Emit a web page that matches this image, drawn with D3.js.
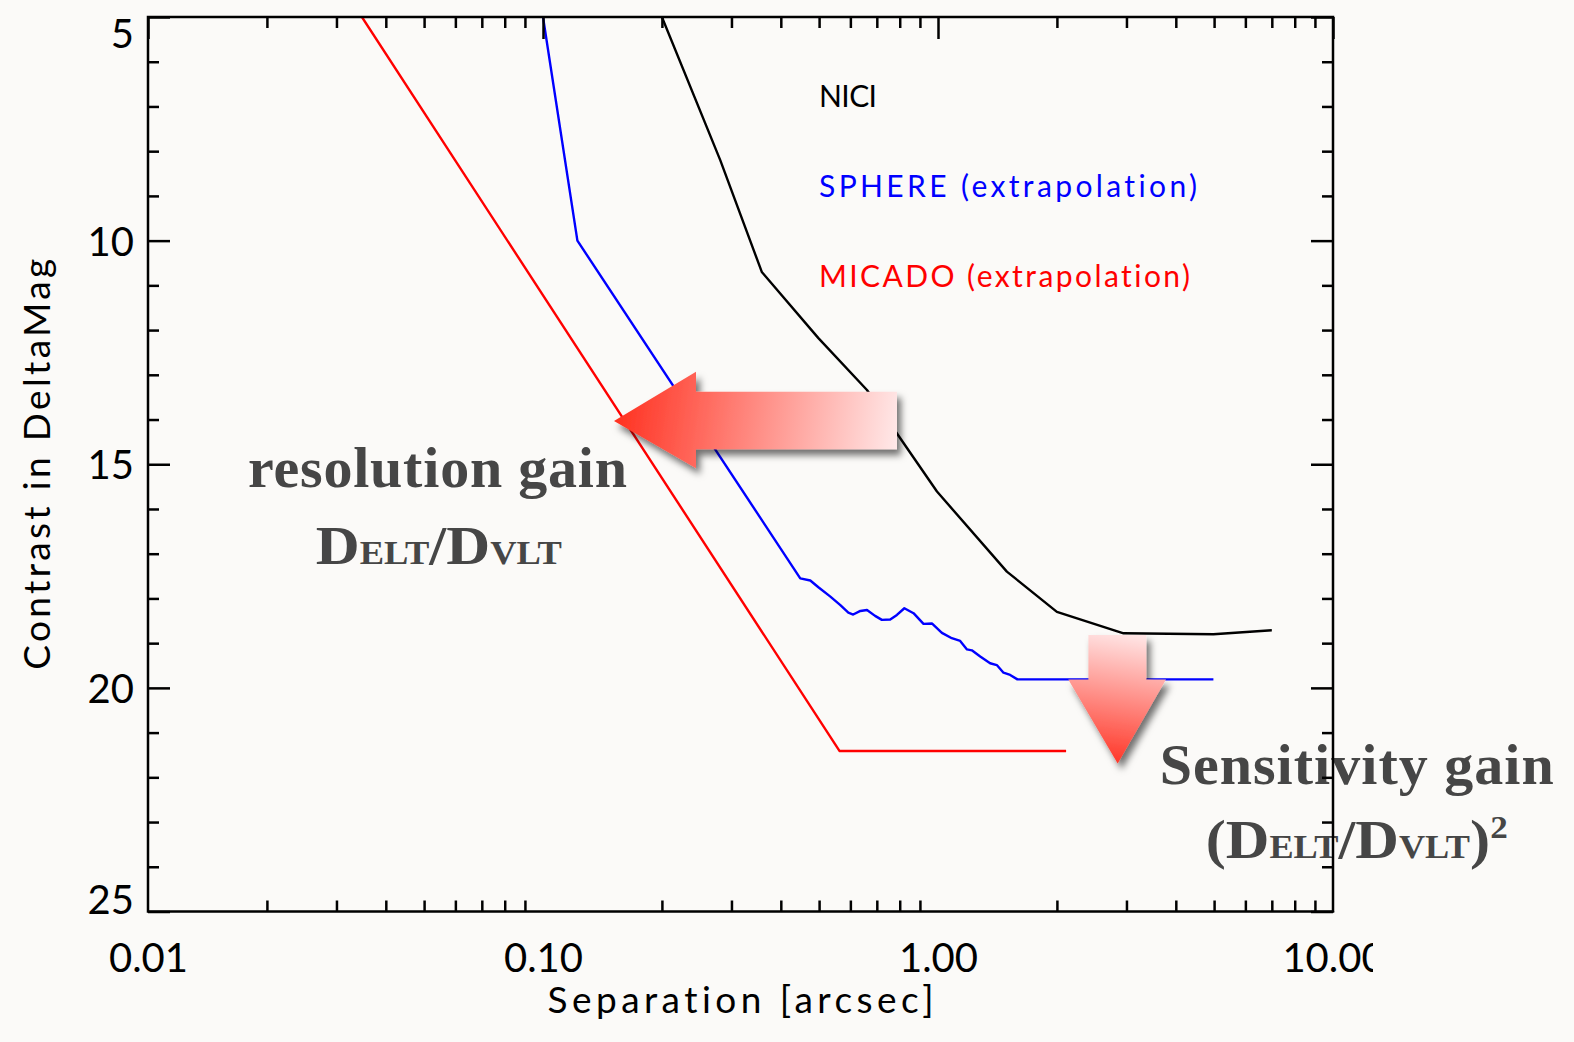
<!DOCTYPE html>
<html>
<head>
<meta charset="utf-8">
<script src="https://cdn.jsdelivr.net/npm/d3@7"></script>
<style>
  html, body { margin: 0; padding: 0; background: #fbfaf8; }
  svg { display: block; }
  text { font-variant-ligatures: none; font-feature-settings: "liga" 0; }
  .axis text { font-family: Lato, "DejaVu Sans", sans-serif; fill: #000; }
  .axis line { stroke: #000; stroke-width: 2.5; }
</style>
</head>
<body>
<svg id="chart"></svg>
<script>
// NICI (measured)
const niciSep = [0.2, 0.281, 0.358, 0.498, 0.661, 0.994, 1.494, 2.0, 2.95, 4.98, 7.0];
const niciMag = [5.0, 8.2, 10.7, 12.18, 13.34, 15.61, 17.4, 18.3, 18.78, 18.8, 18.71];

// SPHERE (extrapolation)
const sphereSep = [0.1, 0.1222, 0.448, 0.475, 0.498, 0.534, 0.566, 0.593, 0.61, 0.636, 0.661,
  0.693, 0.721, 0.757, 0.787, 0.822, 0.867, 0.919, 0.965, 1.023, 1.084, 1.138, 1.184,
  1.218, 1.279, 1.355, 1.409, 1.465, 1.523, 1.589, 4.98];
const sphereMag = [5.0, 10.0, 17.55, 17.6, 17.75, 17.96, 18.15, 18.32, 18.36, 18.28, 18.26,
  18.39, 18.48, 18.47, 18.37, 18.22, 18.33, 18.57, 18.56, 18.77, 18.89, 18.95, 19.14,
  19.16, 19.3, 19.45, 19.49, 19.66, 19.71, 19.81, 19.81];

// MICADO (extrapolation)
const micadoSep = [0.0348, 0.563, 2.11];
const micadoMag = [5.0, 21.41, 21.41];

const xMajor = [0.01, 0.1, 1, 10];
const xTickLabels = ['0.01', '0.10', '1.00', '10.00'];
const yMajor = [5, 10, 15, 20, 25];

const legendLabels = ['NICI', 'SPHERE (extrapolation)', 'MICADO (extrapolation)'];
const seriesColors = ['#000000', '#0000ff', '#ff0000'];

const W = 1574, H = 1042;
const m = { top: 17, right: 1333, bottom: 911.5, left: 148 };

const svg = d3.select('#chart').attr('width', W).attr('height', H);
svg.append('rect').attr('width', W).attr('height', H).attr('fill', '#fbfaf8');

const x = d3.scaleLog().domain([0.01, 10]).range([m.left, m.right]);
const y = d3.scaleLinear().domain([5, 25]).range([m.top, m.bottom]);

const defs = svg.append('defs');
defs.append('clipPath').attr('id', 'plot-clip')
  .append('rect').attr('x', m.left).attr('y', m.top)
  .attr('width', m.right - m.left).attr('height', m.bottom - m.top);
defs.append('clipPath').attr('id', 'label-clip')
  .append('rect').attr('x', 0).attr('y', 0).attr('width', 1373).attr('height', H);

const shadow = defs.append('filter').attr('id', 'shadow')
  .attr('x', '-20%').attr('y', '-20%').attr('width', '140%').attr('height', '140%');
shadow.append('feDropShadow').attr('dx', 4).attr('dy', 6).attr('stdDeviation', 3.5)
  .attr('flood-color', '#000').attr('flood-opacity', 0.55);

const gradL = defs.append('linearGradient').attr('id', 'grad-left')
  .attr('gradientUnits', 'userSpaceOnUse')
  .attr('x1', 614).attr('y1', 400).attr('x2', 897).attr('y2', 440);
gradL.append('stop').attr('offset', 0).attr('stop-color', '#ff2f1e');
gradL.append('stop').attr('offset', 1).attr('stop-color', '#ffe8e8');

const gradD = defs.append('linearGradient').attr('id', 'grad-down')
  .attr('gradientUnits', 'userSpaceOnUse')
  .attr('x1', 1130).attr('y1', 635).attr('x2', 1110).attr('y2', 764);
gradD.append('stop').attr('offset', 0).attr('stop-color', '#ffe4e4');
gradD.append('stop').attr('offset', 1).attr('stop-color', '#ff3526');

// Curves
const line = d3.line().x(d => x(d[0])).y(d => y(d[1]));
const series = [
  d3.zip(niciSep, niciMag),
  d3.zip(sphereSep, sphereMag),
  d3.zip(micadoSep, micadoMag)
];
svg.append('g').attr('clip-path', 'url(#plot-clip)')
  .selectAll('path')
  .data(series)
  .join('path')
    .attr('d', line)
    .attr('fill', 'none')
    .attr('stroke', (_, i) => seriesColors[i])
    .attr('stroke-width', 2.4)
    .attr('stroke-linejoin', 'round');

// Legend
svg.append('g')
  .selectAll('text')
  .data(legendLabels)
  .join('text')
    .attr('x', 819)
    .attr('y', (_, i) => 106.7 + i * 90)
    .attr('fill', (_, i) => seriesColors[i])
    .attr('font-family', 'Lato, "DejaVu Sans", sans-serif')
    .attr('font-size', 30)
    .attr('textLength', (_, i) => [58, 378, 371][i])
    .attr('lengthAdjust', 'spacing')
    .text(d => d);

// Arrows
const arrowLeft = [[614, 421], [696, 371.7], [696, 391.7], [897, 391.7], [897, 449.3], [696, 449.3], [696, 468.3]];
const arrowDown = [[1088.4, 635], [1146.3, 635], [1146.3, 679.4], [1166, 679.4], [1117.7, 763.5], [1068.3, 679.4], [1088.4, 679.4]];
svg.append('polygon').attr('points', arrowLeft.join(' '))
  .attr('fill', 'url(#grad-left)').attr('filter', 'url(#shadow)');
svg.append('polygon').attr('points', arrowDown.join(' '))
  .attr('fill', 'url(#grad-down)').attr('filter', 'url(#shadow)');

// Annotation text
const serif = '"Liberation Serif", "DejaVu Serif", serif';
const ann = svg.append('g').attr('fill', '#464646').attr('font-family', serif)
  .attr('font-weight', 'bold').attr('text-anchor', 'middle');

ann.append('text').attr('x', 437.5).attr('y', 486.7).attr('font-size', 58)
  .attr('textLength', 379).attr('lengthAdjust', 'spacing').text('resolution gain');

const t1 = ann.append('text').attr('x', 438.8).attr('y', 564)
  .attr('textLength', 246).attr('lengthAdjust', 'spacingAndGlyphs');
t1.append('tspan').attr('font-size', 55).text('D');
t1.append('tspan').attr('font-size', 33).text('ELT');
t1.append('tspan').attr('font-size', 55).text('/D');
t1.append('tspan').attr('font-size', 33).text('VLT');

ann.append('text').attr('x', 1356.7).attr('y', 783.5).attr('font-size', 58)
  .attr('textLength', 394).attr('lengthAdjust', 'spacing').text('Sensitivity gain');

const t2 = ann.append('text').attr('x', 1356.7).attr('y', 858)
  .attr('textLength', 302).attr('lengthAdjust', 'spacingAndGlyphs');
t2.append('tspan').attr('font-size', 55).text('(D');
t2.append('tspan').attr('font-size', 33).text('ELT');
t2.append('tspan').attr('font-size', 55).text('/D');
t2.append('tspan').attr('font-size', 33).text('VLT');
t2.append('tspan').attr('font-size', 55).text(')');
t2.append('tspan').attr('font-size', 32).attr('dy', -20).text('2');

// Axes
const xMinor = x.ticks().filter(v => !xMajor.some(t => Math.abs(t - v) < 1e-9));
const yMinor = y.ticks(20).filter(v => v % 5 !== 0);

function clean(ax) { ax.select('.domain').remove(); }

const gx = svg.append('g').attr('class', 'axis').attr('clip-path', 'url(#label-clip)')
  .attr('transform', `translate(0,${m.bottom})`)
  .call(d3.axisBottom(x).tickValues(xMajor).tickFormat((_, i) => xTickLabels[i])
    .tickSize(-22).tickPadding(32))
  .call(clean);
gx.selectAll('text').attr('font-size', 40);

svg.append('g').attr('class', 'axis').attr('transform', `translate(0,${m.bottom})`)
  .call(d3.axisBottom(x).tickValues(xMinor).tickFormat('').tickSize(-11)).call(clean);
svg.append('g').attr('class', 'axis').attr('transform', `translate(0,${m.top})`)
  .call(d3.axisTop(x).tickValues(xMajor).tickFormat('').tickSize(-22)).call(clean);
svg.append('g').attr('class', 'axis').attr('transform', `translate(0,${m.top})`)
  .call(d3.axisTop(x).tickValues(xMinor).tickFormat('').tickSize(-11)).call(clean);

const gy = svg.append('g').attr('class', 'axis').attr('transform', `translate(${m.left},0)`)
  .call(d3.axisLeft(y).tickValues(yMajor).tickSize(-22).tickPadding(14))
  .call(clean);
gy.selectAll('text').attr('font-size', 40)
  .attr('dy', d => d === 5 ? '0.75em' : d === 25 ? '0.06em' : '0.36em');

svg.append('g').attr('class', 'axis').attr('transform', `translate(${m.left},0)`)
  .call(d3.axisLeft(y).tickValues(yMinor).tickFormat('').tickSize(-11)).call(clean);
svg.append('g').attr('class', 'axis').attr('transform', `translate(${m.right},0)`)
  .call(d3.axisRight(y).tickValues(yMajor).tickFormat('').tickSize(-22)).call(clean);
svg.append('g').attr('class', 'axis').attr('transform', `translate(${m.right},0)`)
  .call(d3.axisRight(y).tickValues(yMinor).tickFormat('').tickSize(-11)).call(clean);

svg.append('rect')
  .attr('x', m.left).attr('y', m.top)
  .attr('width', m.right - m.left).attr('height', m.bottom - m.top)
  .attr('fill', 'none').attr('stroke', '#000').attr('stroke-width', 2.5);

// Axis titles
svg.append('text')
  .attr('x', (m.left + m.right) / 2).attr('y', 1013)
  .attr('text-anchor', 'middle')
  .attr('font-family', 'Lato, "DejaVu Sans", sans-serif').attr('font-size', 37)
  .attr('textLength', 386).attr('lengthAdjust', 'spacing')
  .text('Separation [arcsec]');

svg.append('text')
  .attr('transform', `translate(50,${(m.top + m.bottom) / 2}) rotate(-90)`)
  .attr('text-anchor', 'middle')
  .attr('font-family', 'Lato, "DejaVu Sans", sans-serif').attr('font-size', 37)
  .attr('textLength', 411).attr('lengthAdjust', 'spacing')
  .text('Contrast in DeltaMag');
</script>
</body>
</html>
